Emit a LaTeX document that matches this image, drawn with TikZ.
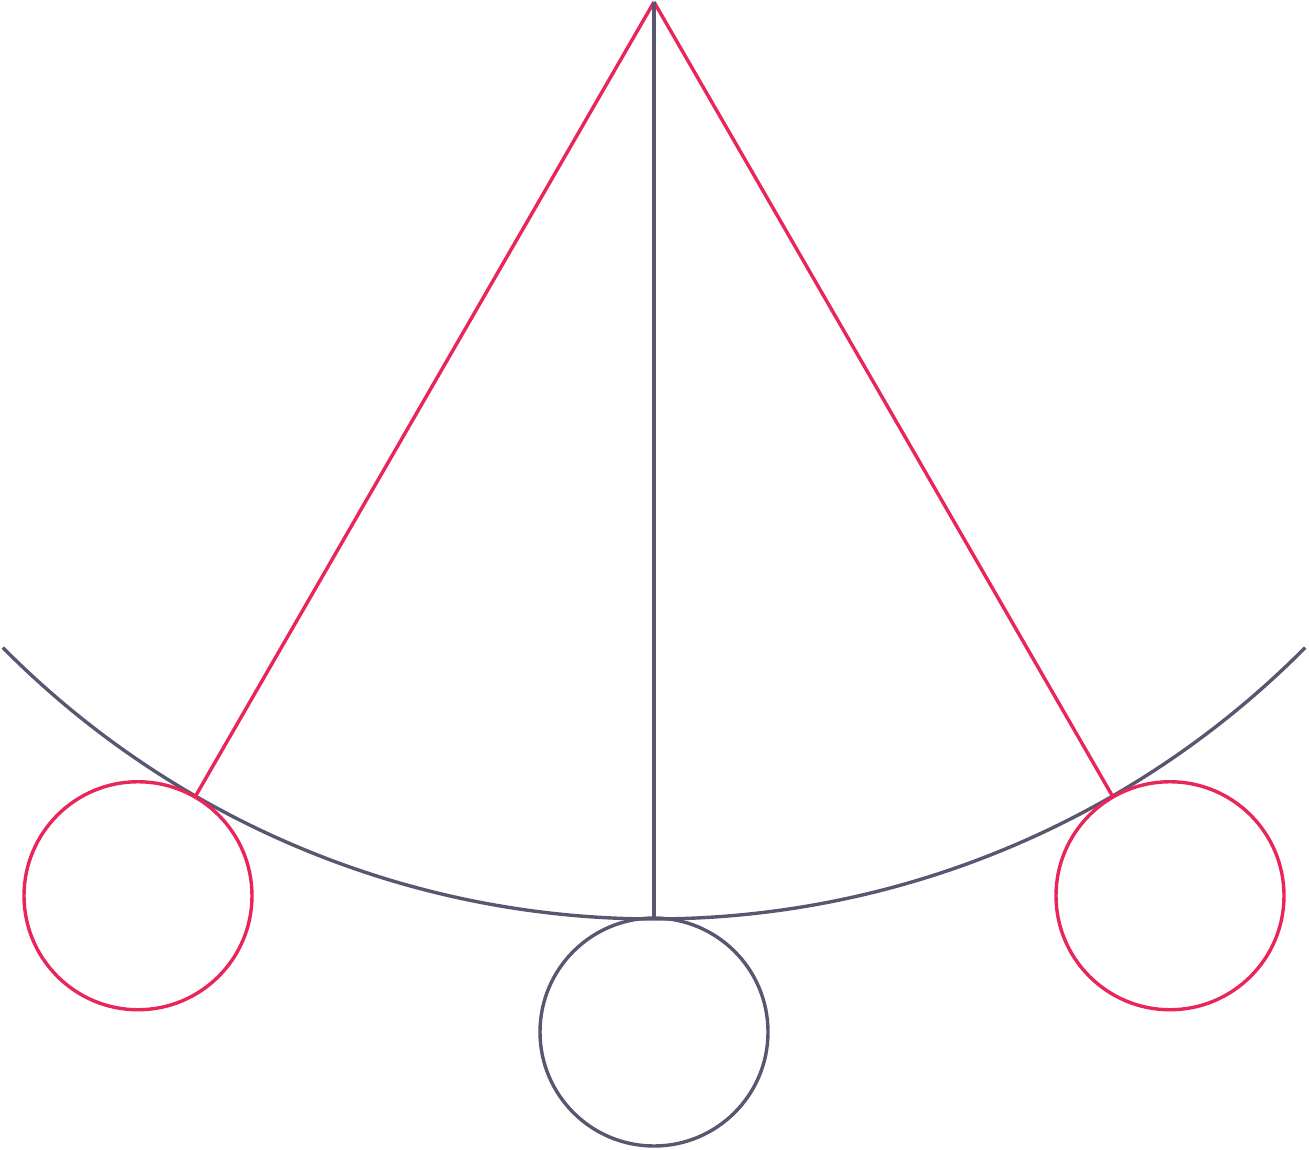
\documentclass[tikz,border=0pt]{standalone}
\usetikzlibrary{calc}
\definecolor{penred}{HTML}{E8265A}
\definecolor{pengray}{HTML}{5B5670}
\begin{document}
\begin{tikzpicture}[x=1pt,y=-1pt,
  redline/.style={draw=penred,line width=3.4pt},
  grayline/.style={draw=pengray,line width=3.4pt},
  bob/.style={circle,line width=3.4pt,minimum size=228pt,inner sep=0pt,outer sep=0pt,fill=none}]
\useasboundingbox (0,0) rectangle (1309,1150);
\coordinate (P) at (654,2);
% arc of swing
\draw[grayline] ($(P)+(135.25:917)$) arc[start angle=135.25,end angle=44.75,radius=917];
% bobs
\node[bob,draw=penred] (bl) at ($(P)+(120:1032)$) {};
\node[bob,draw=penred] (br) at ($(P)+(60:1032)$) {};
\node[bob,draw=pengray] (bc) at ($(P)+(90:1030)$) {};
\coordinate (al) at ($(P)+(120:917)$);
\coordinate (ar) at ($(P)+(60:917)$);
\draw[redline] (P) -- (al);
\draw[redline] (P) -- (ar);
\draw[grayline] (P) -- (bc.north);
\end{tikzpicture}
\end{document}
